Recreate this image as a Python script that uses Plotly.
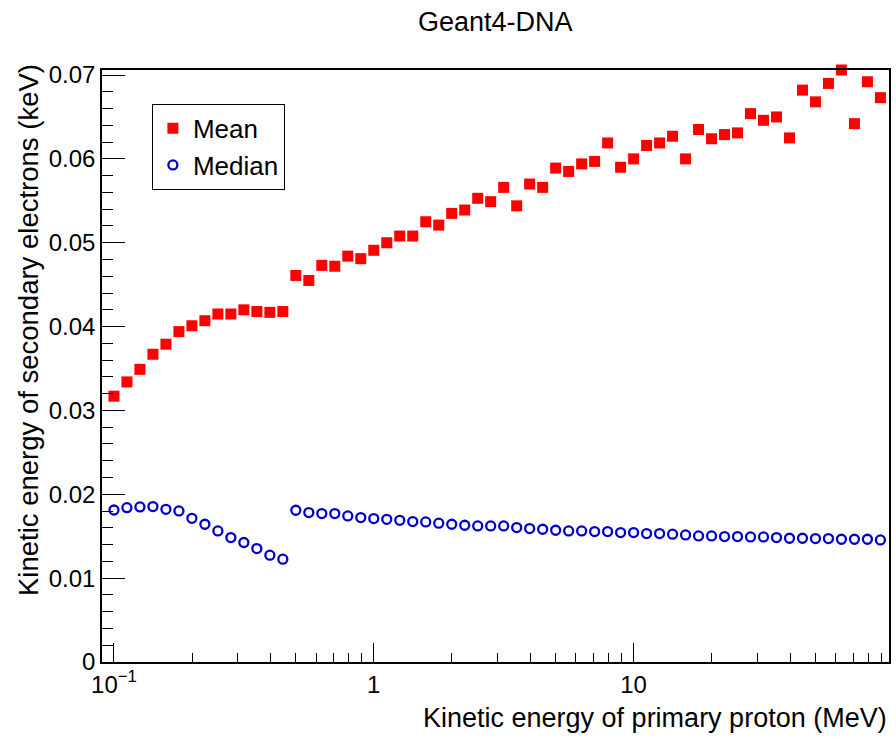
import numpy as np
import plotly.graph_objects as go

# Primary proton energies: 20 log-spaced points per decade starting at 0.1 MeV
n_points = 60
energy_mev = [round(0.1 * 10 ** (0.05 * i), 5) for i in range(n_points)]

mean_kev = [
    0.0317, 0.0334, 0.0349, 0.0367, 0.0379, 0.0394, 0.0401, 0.0407, 0.0415, 0.0415,
    0.0420, 0.0418, 0.0417, 0.0418, 0.0461, 0.0455, 0.0473, 0.0472, 0.0484, 0.0481,
    0.0491, 0.0500, 0.0508, 0.0508, 0.0525, 0.0521, 0.0535, 0.0539, 0.0553, 0.0549,
    0.0566, 0.0544, 0.0570, 0.0566, 0.0589, 0.0585, 0.0594, 0.0597, 0.0619, 0.0590,
    0.0600, 0.0616, 0.0619, 0.0627, 0.0600, 0.0635, 0.0624, 0.0629, 0.0631, 0.0654,
    0.0646, 0.0650, 0.0625, 0.0682, 0.0668, 0.0690, 0.0706, 0.0642, 0.0692, 0.0673,
]

median_kev = [
    0.01813, 0.01841, 0.01849, 0.01853, 0.01821, 0.01802, 0.01714, 0.01643, 0.01563, 0.01484,
    0.01425, 0.01353, 0.01274, 0.01226, 0.01810, 0.01782, 0.01770, 0.01770, 0.01742, 0.01722,
    0.01710, 0.01702, 0.01690, 0.01675, 0.01670, 0.01655, 0.01643, 0.01631, 0.01623, 0.01623,
    0.01623, 0.01603, 0.01591, 0.01583, 0.01571, 0.01563, 0.01563, 0.01556, 0.01556, 0.01544,
    0.01544, 0.01532, 0.01532, 0.01524, 0.01516, 0.01504, 0.01504, 0.01496, 0.01496, 0.01492,
    0.01492, 0.01484, 0.01476, 0.01476, 0.01472, 0.01472, 0.01464, 0.01464, 0.01464, 0.01456,
]

x_tick_vals = [0.1, 1, 10]
x_tick_text = ["10<sup>\u22121</sup>", "1", "10"]
x_minor_vals = [m * d for d in (0.1, 1, 10) for m in range(2, 10)]
y_tick_vals = [0, 0.01, 0.02, 0.03, 0.04, 0.05, 0.06, 0.07]
y_tick_text = ["0", "0.01", "0.02", "0.03", "0.04", "0.05", "0.06", "0.07"]

FONT = "Liberation Sans, Arial, Helvetica, sans-serif"
RED = "#ff0000"
BLUE = "#0000cc"

fig = go.Figure()
fig.add_trace(go.Scatter(
    x=energy_mev, y=mean_kev, mode="markers", name="Mean",
    marker=dict(symbol="square", size=11, color=RED, line=dict(width=0)),
    cliponaxis=False, legendgroup="a",
))
fig.add_trace(go.Scatter(
    x=energy_mev, y=median_kev, mode="markers", name="Median",
    marker=dict(symbol="circle-open", size=9, color=BLUE, line=dict(width=2.3, color=BLUE)),
    cliponaxis=False, legendgroup="b",
))

fig.update_layout(
    width=896, height=740,
    margin=dict(l=102, r=5, t=70, b=78),
    paper_bgcolor="white", plot_bgcolor="white",
    font=dict(family=FONT, color="black", size=24),
    showlegend=True,
    legend=dict(
        x=0.0634, y=0.943, xanchor="left", yanchor="top",
        bgcolor="white", bordercolor="black", borderwidth=1,
        font=dict(size=26), tracegroupgap=0, traceorder="grouped",
    ),
    xaxis=dict(
        type="log", range=[-1.046, 1.983],
        tickmode="array", tickvals=x_tick_vals, ticktext=x_tick_text,
        ticks="inside", ticklen=19, tickwidth=1, tickcolor="black",
        minor=dict(tickmode="array", tickvals=x_minor_vals, ticks="inside",
                   ticklen=9, tickwidth=1, tickcolor="black", showgrid=False),
        showgrid=False, zeroline=False,
        showline=True, linecolor="black", linewidth=1.5, mirror=True,
        tickfont=dict(size=24),
    ),
    yaxis=dict(
        range=[0, 0.0706],
        tickmode="array", tickvals=y_tick_vals, ticktext=y_tick_text,
        ticks="inside", ticklen=23, tickwidth=1, tickcolor="black",
        minor=dict(dtick=0.002, tick0=0, ticks="inside", ticklen=11,
                   tickwidth=1, tickcolor="black", showgrid=False),
        showgrid=False, zeroline=False,
        showline=True, linecolor="black", linewidth=1.5, mirror=True,
        tickfont=dict(size=24),
    ),
    annotations=[
        dict(text="Geant4-DNA", xref="paper", yref="paper", x=0.5, y=1,
             yshift=48, xanchor="center", yanchor="middle", showarrow=False,
             font=dict(size=27)),
        dict(text="Kinetic energy of primary proton (MeV)", xref="paper", yref="paper",
             x=1, y=0, yshift=-56, xanchor="right", yanchor="middle",
             showarrow=False, font=dict(size=27)),
        dict(text="Kinetic energy of secondary electrons (keV)", xref="paper", yref="paper",
             x=0, y=1, xshift=-74, yshift=8, textangle=-90, xanchor="center",
             yanchor="top", showarrow=False, font=dict(size=27.5)),
    ],
)

fig.write_html("out.html")
